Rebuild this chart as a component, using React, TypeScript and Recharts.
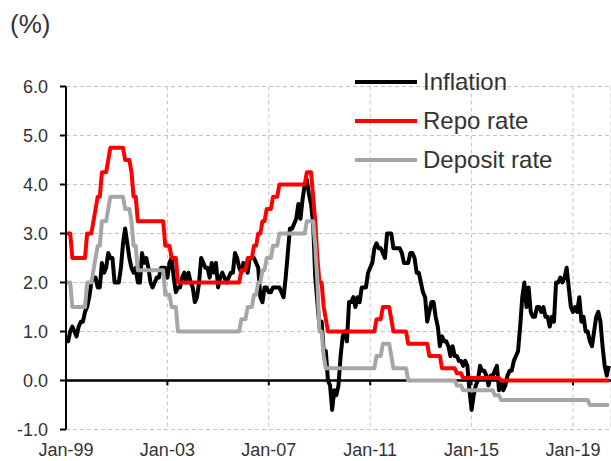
import {
  LineChart,
  Line,
  XAxis,
  YAxis,
  CartesianGrid,
  ReferenceLine,
  Legend,
} from "recharts";

// monthly values, Jan-99 .. Jun-20 (one row per year)
const inflation = [
  0.8, 0.8, 1.0, 1.1, 1.0, 0.9, 1.1, 1.2, 1.2, 1.4, 1.5, 1.7,
  2.0, 2.1, 2.1, 1.9, 1.9, 2.4, 2.2, 2.3, 2.6, 2.5, 2.5, 2.0,
  2.0, 2.0, 2.3, 2.8, 3.1, 2.8, 2.5, 2.3, 2.2, 2.3, 2.0, 2.0,
  2.6, 2.4, 2.5, 2.3, 2.0, 1.9, 2.0, 2.1, 2.1, 2.3, 2.3, 2.3,
  2.1, 2.4, 2.5, 2.1, 1.8, 1.9, 1.9, 2.1, 2.2, 2.0, 2.2, 2.0,
  1.9, 1.6, 1.7, 2.0, 2.5, 2.4, 2.3, 2.3, 2.1, 2.4, 2.2, 2.4,
  1.9, 2.1, 2.2, 2.1, 2.0, 2.1, 2.2, 2.2, 2.6, 2.5, 2.3, 2.2,
  2.4, 2.3, 2.2, 2.5, 2.5, 2.5, 2.4, 2.3, 1.7, 1.6, 1.9, 1.9,
  1.8, 1.8, 1.9, 1.9, 1.9, 1.9, 1.8, 1.7, 2.1, 2.6, 3.1, 3.1,
  3.2, 3.3, 3.6, 3.3, 3.7, 4.0, 4.1, 3.8, 3.6, 3.2, 2.1, 1.6,
  1.1, 1.2, 0.6, 0.6, 0.0, -0.1, -0.6, -0.2, -0.3, -0.1, 0.5, 0.9,
  1.0, 0.8, 1.6, 1.6, 1.7, 1.5, 1.7, 1.6, 1.9, 1.9, 1.9, 2.2,
  2.3, 2.4, 2.7, 2.8, 2.7, 2.7, 2.6, 2.5, 3.0, 3.0, 3.0, 2.7,
  2.7, 2.7, 2.7, 2.6, 2.4, 2.4, 2.4, 2.6, 2.6, 2.5, 2.2, 2.2,
  2.0, 1.8, 1.7, 1.2, 1.4, 1.6, 1.6, 1.3, 1.1, 0.7, 0.9, 0.8,
  0.8, 0.7, 0.5, 0.7, 0.5, 0.5, 0.4, 0.4, 0.3, 0.4, 0.3, -0.2,
  -0.6, -0.3, -0.1, 0.0, 0.3, 0.2, 0.2, 0.1, -0.1, 0.1, 0.1, 0.2,
  0.3, -0.2, 0.0, -0.2, -0.1, 0.1, 0.2, 0.2, 0.4, 0.5, 0.6, 1.1,
  1.7, 2.0, 1.5, 1.9, 1.4, 1.3, 1.3, 1.5, 1.5, 1.4, 1.5, 1.3,
  1.3, 1.1, 1.3, 1.2, 2.0, 2.0, 2.1, 2.0, 2.1, 2.3, 1.9, 1.5,
  1.4, 1.5, 1.4, 1.7, 1.2, 1.3, 1.0, 1.0, 0.8, 0.7, 1.0, 1.3,
  1.4, 1.2, 0.7, 0.3, 0.1, 0.3,
];

const repoRate = [
  3.0, 3.0, 3.0, 2.5, 2.5, 2.5, 2.5, 2.5, 2.5, 2.5, 3.0, 3.0,
  3.0, 3.25, 3.5, 3.75, 3.75, 4.25, 4.25, 4.25, 4.5, 4.75, 4.75, 4.75,
  4.75, 4.75, 4.75, 4.75, 4.5, 4.5, 4.5, 4.25, 3.75, 3.75, 3.25, 3.25,
  3.25, 3.25, 3.25, 3.25, 3.25, 3.25, 3.25, 3.25, 3.25, 3.25, 3.25, 2.75,
  2.75, 2.75, 2.5, 2.5, 2.5, 2.0, 2.0, 2.0, 2.0, 2.0, 2.0, 2.0,
  2.0, 2.0, 2.0, 2.0, 2.0, 2.0, 2.0, 2.0, 2.0, 2.0, 2.0, 2.0,
  2.0, 2.0, 2.0, 2.0, 2.0, 2.0, 2.0, 2.0, 2.0, 2.0, 2.0, 2.25,
  2.25, 2.25, 2.5, 2.5, 2.5, 2.75, 2.75, 3.0, 3.0, 3.25, 3.25, 3.5,
  3.5, 3.5, 3.75, 3.75, 3.75, 4.0, 4.0, 4.0, 4.0, 4.0, 4.0, 4.0,
  4.0, 4.0, 4.0, 4.0, 4.0, 4.0, 4.25, 4.25, 4.25, 3.75, 3.25, 2.5,
  2.0, 2.0, 1.5, 1.25, 1.0, 1.0, 1.0, 1.0, 1.0, 1.0, 1.0, 1.0,
  1.0, 1.0, 1.0, 1.0, 1.0, 1.0, 1.0, 1.0, 1.0, 1.0, 1.0, 1.0,
  1.0, 1.0, 1.0, 1.25, 1.25, 1.25, 1.5, 1.5, 1.5, 1.5, 1.25, 1.0,
  1.0, 1.0, 1.0, 1.0, 1.0, 1.0, 0.75, 0.75, 0.75, 0.75, 0.75, 0.75,
  0.75, 0.75, 0.75, 0.75, 0.5, 0.5, 0.5, 0.5, 0.5, 0.5, 0.25, 0.25,
  0.25, 0.25, 0.25, 0.25, 0.25, 0.15, 0.15, 0.15, 0.05, 0.05, 0.05, 0.05,
  0.05, 0.05, 0.05, 0.05, 0.05, 0.05, 0.05, 0.05, 0.05, 0.05, 0.05, 0.05,
  0.05, 0.05, 0.0, 0.0, 0.0, 0.0, 0.0, 0.0, 0.0, 0.0, 0.0, 0.0,
  0.0, 0.0, 0.0, 0.0, 0.0, 0.0, 0.0, 0.0, 0.0, 0.0, 0.0, 0.0,
  0.0, 0.0, 0.0, 0.0, 0.0, 0.0, 0.0, 0.0, 0.0, 0.0, 0.0, 0.0,
  0.0, 0.0, 0.0, 0.0, 0.0, 0.0, 0.0, 0.0, 0.0, 0.0, 0.0, 0.0,
  0.0, 0.0, 0.0, 0.0, 0.0, 0.0,
];

const depositRate = [
  2.0, 2.0, 2.0, 1.5, 1.5, 1.5, 1.5, 1.5, 1.5, 1.5, 2.0, 2.0,
  2.0, 2.25, 2.5, 2.75, 2.75, 3.25, 3.25, 3.25, 3.5, 3.75, 3.75, 3.75,
  3.75, 3.75, 3.75, 3.75, 3.5, 3.5, 3.5, 3.25, 2.75, 2.75, 2.25, 2.25,
  2.25, 2.25, 2.25, 2.25, 2.25, 2.25, 2.25, 2.25, 2.25, 2.25, 2.25, 1.75,
  1.75, 1.75, 1.5, 1.5, 1.5, 1.0, 1.0, 1.0, 1.0, 1.0, 1.0, 1.0,
  1.0, 1.0, 1.0, 1.0, 1.0, 1.0, 1.0, 1.0, 1.0, 1.0, 1.0, 1.0,
  1.0, 1.0, 1.0, 1.0, 1.0, 1.0, 1.0, 1.0, 1.0, 1.0, 1.0, 1.25,
  1.25, 1.25, 1.5, 1.5, 1.5, 1.75, 1.75, 2.0, 2.0, 2.25, 2.25, 2.5,
  2.5, 2.5, 2.75, 2.75, 2.75, 3.0, 3.0, 3.0, 3.0, 3.0, 3.0, 3.0,
  3.0, 3.0, 3.0, 3.0, 3.0, 3.0, 3.25, 3.25, 3.25, 3.25, 2.75, 2.0,
  1.0, 1.0, 0.5, 0.25, 0.25, 0.25, 0.25, 0.25, 0.25, 0.25, 0.25, 0.25,
  0.25, 0.25, 0.25, 0.25, 0.25, 0.25, 0.25, 0.25, 0.25, 0.25, 0.25, 0.25,
  0.25, 0.25, 0.25, 0.5, 0.5, 0.5, 0.75, 0.75, 0.75, 0.75, 0.5, 0.25,
  0.25, 0.25, 0.25, 0.25, 0.25, 0.25, 0.0, 0.0, 0.0, 0.0, 0.0, 0.0,
  0.0, 0.0, 0.0, 0.0, 0.0, 0.0, 0.0, 0.0, 0.0, 0.0, 0.0, 0.0,
  0.0, 0.0, 0.0, 0.0, 0.0, -0.1, -0.1, -0.1, -0.2, -0.2, -0.2, -0.2,
  -0.2, -0.2, -0.2, -0.2, -0.2, -0.2, -0.2, -0.2, -0.2, -0.2, -0.2, -0.3,
  -0.3, -0.3, -0.4, -0.4, -0.4, -0.4, -0.4, -0.4, -0.4, -0.4, -0.4, -0.4,
  -0.4, -0.4, -0.4, -0.4, -0.4, -0.4, -0.4, -0.4, -0.4, -0.4, -0.4, -0.4,
  -0.4, -0.4, -0.4, -0.4, -0.4, -0.4, -0.4, -0.4, -0.4, -0.4, -0.4, -0.4,
  -0.4, -0.4, -0.4, -0.4, -0.4, -0.4, -0.4, -0.4, -0.5, -0.5, -0.5, -0.5,
  -0.5, -0.5, -0.5, -0.5, -0.5, -0.5,
];

// month index of each x label (0 = Jan-99)
const xTicks = [0, 48, 96, 144, 192, 240];
const xTickLabels = ["Jan-99", "Jan-03", "Jan-07", "Jan-11", "Jan-15", "Jan-19"];
const yTicks = [-1, 0, 1, 2, 3, 4, 5, 6];

const series = [
  { key: "inflation", name: "Inflation", color: "#000000" },
  { key: "repo", name: "Repo rate", color: "#ff0000" },
  { key: "deposit", name: "Deposit rate", color: "#a6a6a6" },
];

const FONT = "Arial, 'Liberation Sans', sans-serif";
const TEXT = "#333333";

const data = inflation.map((v, i) => ({
  m: i,
  inflation: v,
  repo: repoRate[i],
  deposit: depositRate[i],
}));

function LegendBox() {
  return (
    <div style={{ fontFamily: FONT }}>
      {series.map((s) => (
        <div
          key={s.key}
          style={{ display: "flex", alignItems: "center", height: 39 }}
        >
          <svg width={62} height={8} style={{ display: "block" }}>
            <line x1={0} y1={4} x2={62} y2={4} stroke={s.color} strokeWidth={4} />
          </svg>
          <span style={{ marginLeft: 6, fontSize: 24, color: TEXT }}>{s.name}</span>
        </div>
      ))}
    </div>
  );
}

export default function App() {
  return (
    <div style={{ position: "absolute", left: 0, top: 0, width: 611, height: 461, background: "#fff" }}>
      <div
        style={{
          position: "absolute",
          left: 10,
          top: 11,
          fontFamily: FONT,
          fontSize: 26,
          lineHeight: "26px",
          color: TEXT,
        }}
      >
        (%)
      </div>
      <LineChart
        width={611}
        height={461}
        data={data}
        margin={{ top: 86.5, right: 0, left: 0, bottom: 1.5 }}
      >
        <CartesianGrid stroke="#c4c4c4" strokeDasharray="4 3" />
        <XAxis
          dataKey="m"
          type="number"
          domain={[0, 258]}
          ticks={xTicks}
          tickFormatter={(v: number) => xTickLabels[xTicks.indexOf(v)] ?? ""}
          axisLine={false}
          tickLine={false}
          tickSize={6}
          tickMargin={8}
          height={30}
          interval={0}
          tick={{ fill: TEXT, fontSize: 18, fontFamily: FONT }}
        />
        <YAxis
          type="number"
          domain={[-1, 6]}
          ticks={yTicks}
          interval={0}
          width={66}
          tickFormatter={(v: number) => v.toFixed(1)}
          axisLine={{ stroke: "#000", strokeWidth: 2 }}
          tickLine={{ stroke: "#000", strokeWidth: 2 }}
          tickSize={6}
          tickMargin={12}
          tick={{ fill: TEXT, fontSize: 18, fontFamily: FONT }}
        />
        <ReferenceLine y={0} stroke="#000" strokeWidth={2.5} />
        {xTicks.slice(1).map((t) => (
          <ReferenceLine
            key={t}
            segment={[
              { x: t, y: 0 },
              { x: t, y: -0.1 },
            ]}
            stroke="#000"
            strokeWidth={2}
          />
        ))}
        {series.map((s) => (
          <Line
            key={s.key}
            type="linear"
            dataKey={s.key}
            name={s.name}
            stroke={s.color}
            strokeWidth={4}
            strokeLinejoin="round"
            dot={false}
            activeDot={false}
            isAnimationActive={false}
          />
        ))}
        <Legend
          layout="vertical"
          align="center"
          verticalAlign="middle"
          wrapperStyle={{ left: 355, top: 62, width: 250, height: 120 }}
          content={() => <LegendBox />}
        />
      </LineChart>
    </div>
  );
}
